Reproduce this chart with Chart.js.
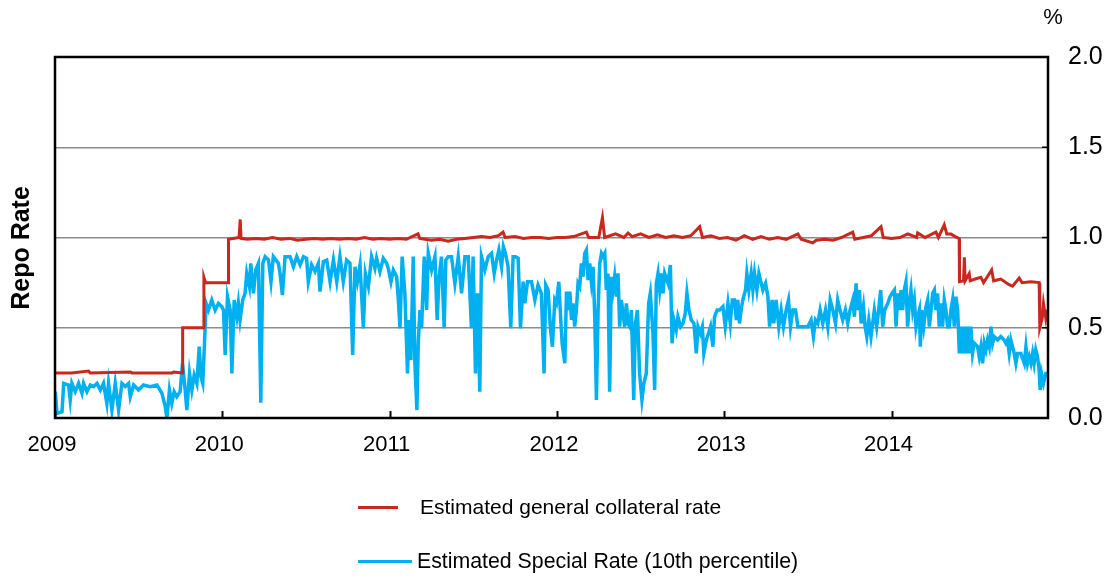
<!DOCTYPE html>
<html>
<head>
<meta charset="utf-8">
<script src="https://cdn.jsdelivr.net/npm/chart.js@4.4.1/dist/chart.umd.min.js"></script>
<style>
  html, body { margin: 0; padding: 0; background: #fff; }
  #wrap { position: relative; width: 1116px; height: 577px; font-family: "Liberation Sans", Arial, sans-serif; }
  #chart { position: absolute; left: 0; top: 0; }
  .legend-row { position: absolute; display: flex; align-items: center; font-size: 21px; color: #000; white-space: nowrap; }
  .legend-line { display: inline-block; height: 3px; }
</style>
</head>
<body>
<div id="wrap">
  <canvas id="chart" width="1116" height="577"></canvas>
  <div class="legend-row" style="left:358px; top:495px;">
    <span class="legend-line" style="width:40px; background:#C8281E; margin-right:22px;"></span>
    <span>Estimated general collateral rate</span>
  </div>
  <div class="legend-row" style="left:358px; top:549px;">
    <span class="legend-line" style="width:54px; background:#00B0F0; margin-right:5px;"></span>
    <span style="font-size:21.3px;">Estimated Special Rate (10th percentile)</span>
  </div>
</div>
<script>
// x values are decimal years, y values are repo rates in %
const yearTicks = [2009, 2010, 2011, 2012, 2013, 2014];
const rateTicks = [0, 0.5, 1.0, 1.5, 2.0];

const gcDates = [
  2009.000, 2009.100, 2009.200, 2009.210, 2009.450, 2009.460, 2009.700, 2009.710, 2009.762,
  2009.763, 2009.889, 2009.890, 2009.900, 2010.036, 2010.037, 2010.100, 2010.107, 2010.112,
  2010.150, 2010.200, 2010.250, 2010.300, 2010.350, 2010.400, 2010.450, 2010.500, 2010.550,
  2010.600, 2010.650, 2010.700, 2010.750, 2010.800, 2010.850, 2010.900, 2010.950, 2011.000,
  2011.050, 2011.100, 2011.170, 2011.180, 2011.250, 2011.300, 2011.350, 2011.400, 2011.450,
  2011.500, 2011.550, 2011.600, 2011.650, 2011.678, 2011.690, 2011.750, 2011.800, 2011.850,
  2011.900, 2011.950, 2012.000, 2012.050, 2012.100, 2012.176, 2012.190, 2012.250, 2012.272,
  2012.285, 2012.350, 2012.400, 2012.425, 2012.450, 2012.500, 2012.550, 2012.600, 2012.650,
  2012.700, 2012.750, 2012.800, 2012.853, 2012.870, 2012.920, 2012.970, 2013.020, 2013.070,
  2013.120, 2013.170, 2013.220, 2013.270, 2013.320, 2013.370, 2013.440, 2013.460, 2013.529,
  2013.550, 2013.600, 2013.650, 2013.700, 2013.768, 2013.780, 2013.830, 2013.880, 2013.937,
  2013.950, 2014.000, 2014.050, 2014.097, 2014.150, 2014.156, 2014.200, 2014.265, 2014.280,
  2014.315, 2014.330, 2014.355, 2014.380, 2014.404, 2014.406, 2014.430, 2014.435, 2014.440,
  2014.464, 2014.470, 2014.500, 2014.534, 2014.550, 2014.598, 2014.610, 2014.653, 2014.700,
  2014.723, 2014.763, 2014.780, 2014.833, 2014.882, 2014.886, 2014.900, 2014.908, 2014.922,
  2014.932
];
const gcRates = [
  0.25, 0.25, 0.26, 0.25, 0.255, 0.25, 0.25, 0.255, 0.25,
  0.50, 0.50, 0.78, 0.75, 0.75, 0.99, 1.00, 1.10, 0.995,
  0.99, 0.995, 0.99, 1.00, 0.99, 0.995, 0.985, 0.99, 0.995,
  0.99, 0.995, 0.99, 0.995, 0.99, 1.00, 0.99, 0.995, 0.99,
  0.995, 0.99, 1.02, 0.995, 0.985, 0.99, 0.98, 0.99, 0.995,
  1.00, 1.005, 1.00, 1.01, 1.03, 1.00, 1.005, 0.995, 1.00,
  1.00, 0.995, 1.00, 1.00, 1.005, 1.03, 1.00, 1.00, 1.11,
  1.00, 1.02, 1.00, 1.025, 1.005, 1.02, 1.00, 1.015, 1.00,
  1.01, 1.00, 1.01, 1.06, 1.00, 1.01, 0.995, 1.00, 0.985,
  1.01, 0.99, 1.005, 0.99, 1.00, 0.99, 1.02, 0.99, 0.97,
  0.985, 0.99, 0.985, 1.00, 1.03, 0.99, 1.00, 1.01, 1.06,
  1.00, 0.995, 1.00, 1.02, 1.00, 1.025, 1.00, 1.03, 1.00,
  1.07, 1.02, 1.02, 1.005, 0.995, 0.755, 0.76, 0.89, 0.76,
  0.80, 0.76, 0.77, 0.78, 0.75, 0.82, 0.76, 0.77, 0.74,
  0.73, 0.775, 0.75, 0.755, 0.75, 0.50, 0.55, 0.635, 0.55,
  0.60
];

const specialDates = [
  2009.002, 2009.012, 2009.042, 2009.052, 2009.081, 2009.091, 2009.101, 2009.121, 2009.141,
  2009.161, 2009.171, 2009.191, 2009.211, 2009.231, 2009.251, 2009.271, 2009.290, 2009.310,
  2009.320, 2009.340, 2009.360, 2009.380, 2009.400, 2009.420, 2009.440, 2009.450, 2009.470,
  2009.499, 2009.529, 2009.569, 2009.609, 2009.639, 2009.659, 2009.669, 2009.684, 2009.698,
  2009.712, 2009.728, 2009.748, 2009.762, 2009.778, 2009.788, 2009.804, 2009.818, 2009.832,
  2009.848, 2009.862, 2009.872, 2009.883, 2009.893, 2009.903, 2009.917, 2009.937, 2009.957,
  2009.977, 2009.997,
  2010.007, 2010.017, 2010.031, 2010.047, 2010.057, 2010.071, 2010.087, 2010.096, 2010.106,
  2010.122, 2010.136, 2010.146, 2010.162, 2010.170, 2010.186, 2010.200, 2010.216, 2010.230,
  2010.242, 2010.256, 2010.276, 2010.291, 2010.305, 2010.335, 2010.345, 2010.359, 2010.375,
  2010.405, 2010.425, 2010.445, 2010.465, 2010.485, 2010.504, 2010.514, 2010.534, 2010.554,
  2010.574, 2010.584, 2010.604, 2010.624, 2010.644, 2010.664, 2010.684, 2010.703, 2010.723,
  2010.743, 2010.763, 2010.779, 2010.793, 2010.807, 2010.823, 2010.843, 2010.855, 2010.873,
  2010.892, 2010.912, 2010.922, 2010.942, 2010.962, 2010.982,
  2010.992, 2011.008, 2011.022, 2011.042, 2011.052, 2011.062, 2011.075, 2011.091, 2011.107,
  2011.115, 2011.127, 2011.141, 2011.151, 2011.163, 2011.171, 2011.181, 2011.191, 2011.207,
  2011.221, 2011.231, 2011.251, 2011.271, 2011.284, 2011.296, 2011.310, 2011.326, 2011.336,
  2011.350, 2011.370, 2011.390, 2011.410, 2011.430, 2011.450, 2011.470, 2011.489, 2011.499,
  2011.513, 2011.525, 2011.539, 2011.549, 2011.569, 2011.589, 2011.609, 2011.625, 2011.639,
  2011.653, 2011.669, 2011.680, 2011.692, 2011.708, 2011.724, 2011.738, 2011.752, 2011.768,
  2011.782, 2011.798, 2011.808, 2011.824, 2011.848, 2011.868, 2011.887, 2011.907, 2011.923,
  2011.933, 2011.947, 2011.961, 2011.973, 2011.987,
  2011.997, 2012.011, 2012.023, 2012.031, 2012.047, 2012.057, 2012.067, 2012.077, 2012.087,
  2012.096, 2012.106, 2012.116, 2012.126, 2012.136, 2012.146, 2012.156, 2012.166, 2012.176,
  2012.186, 2012.196, 2012.206, 2012.216, 2012.226, 2012.236, 2012.246, 2012.256, 2012.266,
  2012.276, 2012.286, 2012.295, 2012.305, 2012.315, 2012.325, 2012.335, 2012.345, 2012.355,
  2012.365, 2012.375, 2012.385, 2012.405, 2012.415, 2012.425, 2012.435, 2012.445, 2012.459,
  2012.469, 2012.481, 2012.494, 2012.508, 2012.520, 2012.534, 2012.548, 2012.558, 2012.574,
  2012.584, 2012.594, 2012.604, 2012.614, 2012.624, 2012.634, 2012.644, 2012.664, 2012.678,
  2012.688, 2012.699, 2012.713, 2012.723, 2012.739, 2012.753, 2012.767, 2012.777, 2012.789,
  2012.803, 2012.819, 2012.833, 2012.843, 2012.857, 2012.869, 2012.878, 2012.893, 2012.906,
  2012.918, 2012.932, 2012.942, 2012.958, 2012.972, 2012.992, 2013.006, 2013.022,
  2013.036, 2013.048, 2013.062, 2013.072, 2013.081, 2013.091, 2013.101, 2013.111, 2013.127,
  2013.135, 2013.147, 2013.161, 2013.171, 2013.181, 2013.195, 2013.207, 2013.221, 2013.231,
  2013.247, 2013.261, 2013.271, 2013.286, 2013.296, 2013.310, 2013.326, 2013.340, 2013.354,
  2013.370, 2013.384, 2013.396, 2013.410, 2013.426, 2013.440, 2013.470, 2013.499, 2013.519,
  2013.533, 2013.545, 2013.559, 2013.573, 2013.589, 2013.605, 2013.619, 2013.633, 2013.649,
  2013.665, 2013.678, 2013.692, 2013.708, 2013.724, 2013.738, 2013.752, 2013.768, 2013.778,
  2013.788, 2013.798, 2013.808, 2013.818, 2013.832, 2013.842, 2013.852, 2013.864, 2013.877,
  2013.887, 2013.897, 2013.911, 2013.923, 2013.935, 2013.947, 2013.959, 2013.977, 2013.991,
  2014.003,
  2014.017, 2014.027, 2014.037, 2014.047, 2014.057, 2014.066, 2014.076, 2014.086, 2014.096,
  2014.106, 2014.116, 2014.126, 2014.136, 2014.146, 2014.156, 2014.166, 2014.172, 2014.180,
  2014.192, 2014.206, 2014.216, 2014.226, 2014.236, 2014.246, 2014.256, 2014.265, 2014.275,
  2014.285, 2014.295, 2014.305, 2014.315, 2014.325, 2014.335, 2014.345, 2014.355, 2014.365,
  2014.375, 2014.385, 2014.395, 2014.399, 2014.405, 2014.415, 2014.425, 2014.435, 2014.445,
  2014.455, 2014.464, 2014.474, 2014.484, 2014.494, 2014.514, 2014.524, 2014.534, 2014.544,
  2014.554, 2014.564, 2014.574, 2014.584, 2014.594, 2014.604, 2014.614, 2014.634, 2014.653,
  2014.673, 2014.683, 2014.693, 2014.703, 2014.713, 2014.723, 2014.733, 2014.743, 2014.753,
  2014.773, 2014.793, 2014.803, 2014.813, 2014.823, 2014.833, 2014.843, 2014.852, 2014.862,
  2014.872, 2014.882, 2014.888, 2014.896, 2014.908, 2014.922, 2014.932
];
const specialRates = [
  0.146, 0.026, 0.035, 0.192, 0.183, 0.100, 0.192, 0.146, 0.192,
  0.137, 0.192, 0.146, 0.183, 0.174, 0.192, 0.155, 0.192, 0.081,
  0.192, 0.044, 0.192, 0.044, 0.192, 0.174, 0.192, 0.118, 0.183,
  0.155, 0.183, 0.174, 0.183, 0.137, 0.063, 0.000, 0.155, 0.081,
  0.146, 0.118, 0.146, 0.303, 0.155, 0.044, 0.247, 0.155, 0.238,
  0.192, 0.395, 0.229, 0.192, 0.404, 0.635, 0.598, 0.654, 0.598,
  0.635, 0.617,
  0.598, 0.349, 0.672, 0.598, 0.247, 0.654, 0.561, 0.635, 0.543,
  0.654, 0.691, 0.801, 0.728, 0.857, 0.691, 0.820, 0.857, 0.085,
  0.857, 0.894, 0.875, 0.755, 0.894, 0.857, 0.801, 0.681, 0.894,
  0.894, 0.838, 0.894, 0.848, 0.894, 0.885, 0.755, 0.848, 0.811,
  0.857, 0.700, 0.866, 0.875, 0.755, 0.875, 0.755, 0.894, 0.755,
  0.875, 0.857, 0.349, 0.838, 0.755, 0.848, 0.497, 0.801, 0.728,
  0.894, 0.829, 0.885, 0.811, 0.885, 0.857,
  0.829, 0.755, 0.820, 0.783, 0.654, 0.497, 0.894, 0.691, 0.247,
  0.543, 0.321, 0.894, 0.303, 0.044, 0.414, 0.598, 0.497, 0.894,
  0.598, 0.912, 0.820, 0.894, 0.543, 0.783, 0.894, 0.497, 0.875,
  0.894, 0.894, 0.746, 0.894, 0.691, 0.894, 0.894, 0.497, 0.894,
  0.247, 0.691, 0.146, 0.894, 0.820, 0.894, 0.912, 0.801, 0.875,
  0.931, 0.838, 0.949, 0.912, 0.838, 0.497, 0.894, 0.894, 0.885,
  0.497, 0.755, 0.635, 0.755, 0.755, 0.654, 0.737, 0.691, 0.247,
  0.737, 0.709, 0.497, 0.395, 0.654,
  0.635, 0.755, 0.543, 0.414, 0.303, 0.700, 0.598, 0.700, 0.543,
  0.635, 0.506, 0.598, 0.746, 0.728, 0.857, 0.783, 0.912, 0.931,
  0.764, 0.857, 0.755, 0.838, 0.561, 0.100, 0.598, 0.857, 0.912,
  0.894, 0.912, 0.709, 0.801, 0.146, 0.783, 0.709, 0.783, 0.672,
  0.801, 0.506, 0.654, 0.506, 0.635, 0.524, 0.506, 0.598, 0.100,
  0.524, 0.598, 0.247, 0.100, 0.192, 0.247, 0.635, 0.691, 0.469,
  0.155, 0.746, 0.801, 0.709, 0.801, 0.691, 0.801, 0.746, 0.848,
  0.414, 0.543, 0.488, 0.561, 0.506, 0.524, 0.580, 0.691, 0.598,
  0.543, 0.524, 0.358, 0.506, 0.469, 0.506, 0.358, 0.432, 0.469,
  0.506, 0.395, 0.561, 0.598, 0.598, 0.617, 0.506, 0.635,
  0.524, 0.654, 0.654, 0.543, 0.654, 0.524, 0.598, 0.654, 0.709,
  0.801, 0.709, 0.801, 0.709, 0.801, 0.709, 0.801, 0.746, 0.709,
  0.746, 0.672, 0.506, 0.654, 0.524, 0.654, 0.506, 0.598, 0.506,
  0.598, 0.654, 0.506, 0.598, 0.598, 0.506, 0.506, 0.506, 0.543,
  0.451, 0.543, 0.524, 0.598, 0.524, 0.598, 0.506, 0.654, 0.598,
  0.524, 0.654, 0.598, 0.543, 0.598, 0.524, 0.598, 0.654, 0.561,
  0.746, 0.598, 0.709, 0.524, 0.617, 0.506, 0.451, 0.543, 0.451,
  0.524, 0.598, 0.506, 0.598, 0.709, 0.506, 0.598, 0.635, 0.672,
  0.691,
  0.709, 0.506, 0.691, 0.598, 0.709, 0.598, 0.709, 0.755, 0.506,
  0.635, 0.709, 0.598, 0.654, 0.506, 0.561, 0.598, 0.395, 0.598,
  0.506, 0.617, 0.654, 0.506, 0.598, 0.691, 0.709, 0.598, 0.691,
  0.506, 0.635, 0.506, 0.654, 0.598, 0.506, 0.506, 0.598, 0.654,
  0.506, 0.672, 0.598, 0.506, 0.358, 0.506, 0.358, 0.506, 0.358,
  0.506, 0.358, 0.506, 0.358, 0.414, 0.395, 0.340, 0.395, 0.303,
  0.414, 0.377, 0.432, 0.395, 0.506, 0.414, 0.451, 0.432, 0.451,
  0.432, 0.414, 0.432, 0.358, 0.432, 0.395, 0.358, 0.303, 0.358,
  0.358, 0.303, 0.395, 0.303, 0.340, 0.303, 0.358, 0.303, 0.377,
  0.340, 0.266, 0.155, 0.247, 0.192, 0.247, 0.247
];

const xMin = 2009;
const xMax = 2014.935;

function toPoints(xs, ys) {
  return xs.map((x, i) => ({ x: x, y: ys[i] }));
}

// Frame, inner ticks and the free-standing texts
const decorPlugin = {
  id: "decor",
  afterDraw(chart) {
    const ctx = chart.ctx;
    const area = chart.chartArea;
    const xScale = chart.scales.x;
    const yScale = chart.scales.y;
    ctx.save();
    ctx.strokeStyle = "#000";
    ctx.lineWidth = 2.5;
    ctx.strokeRect(area.left, area.top, area.right - area.left, area.bottom - area.top);

    ctx.lineWidth = 2;
    yearTicks.forEach((yr) => {
      const px = Math.round(xScale.getPixelForValue(yr)) + 0.5;
      ctx.beginPath();
      ctx.moveTo(px, area.bottom);
      ctx.lineTo(px, area.bottom - 7);
      ctx.stroke();
    });
    ctx.lineWidth = 1.5;
    rateTicks.forEach((r) => {
      const py = yScale.getPixelForValue(r);
      ctx.beginPath();
      ctx.moveTo(area.right, py);
      ctx.lineTo(area.right - 6, py);
      ctx.stroke();
    });

    ctx.fillStyle = "#000";
    ctx.font = "22px 'Liberation Sans', Arial, sans-serif";
    ctx.textAlign = "center";
    ctx.textBaseline = "middle";
    ctx.fillText("%", 1053, 18);

    ctx.translate(22, 248);
    ctx.rotate(-Math.PI / 2);
    ctx.font = "bold 25px 'Liberation Sans', Arial, sans-serif";
    ctx.fillText("Repo Rate", 0, 0);
    ctx.restore();
  },
};

new Chart(document.getElementById("chart").getContext("2d"), {
  type: "line",
  data: {
    datasets: [
      {
        label: "Estimated general collateral rate",
        data: toPoints(gcDates, gcRates),
        borderColor: "#C8281E",
        borderWidth: 3,
        pointRadius: 0,
        tension: 0,
      },
      {
        label: "Estimated Special Rate (10th percentile)",
        data: toPoints(specialDates, specialRates),
        borderColor: "#00B0F0",
        borderWidth: 3.5,
        pointRadius: 0,
        tension: 0,
      },
    ],
  },
  options: {
    responsive: false,
    animation: false,
    layout: { padding: { left: 55, top: 57, right: 0, bottom: 119 } },
    plugins: {
      legend: { display: false },
      tooltip: { enabled: false },
    },
    scales: {
      x: {
        type: "linear",
        min: xMin,
        max: xMax,
        grid: { display: false, drawTicks: false },
        border: { display: false },
        afterBuildTicks: (scale) => {
          scale.ticks = yearTicks.map((v) => ({ value: v }));
        },
        afterFit: (scale) => {
          scale.height = 40;
        },
        ticks: {
          autoSkip: false,
          maxRotation: 0,
          padding: 14,
          labelOffset: -3,
          color: "#000",
          font: { family: "'Liberation Sans', Arial, sans-serif", size: 22 },
          callback: (v) => String(v),
        },
      },
      y: {
        type: "linear",
        position: "right",
        min: 0,
        max: 2,
        grid: { color: "#8c8c8c", lineWidth: 1.5, drawTicks: false },
        border: { display: false },
        afterBuildTicks: (scale) => {
          scale.ticks = rateTicks.map((v) => ({ value: v }));
        },
        afterFit: (scale) => {
          scale.width = 68;
        },
        ticks: {
          padding: 20,
          color: "#000",
          font: { family: "'Liberation Sans', Arial, sans-serif", size: 25 },
          callback: (v) => Number(v).toFixed(1),
        },
      },
    },
  },
  plugins: [decorPlugin],
});
</script>
</body>
</html>
